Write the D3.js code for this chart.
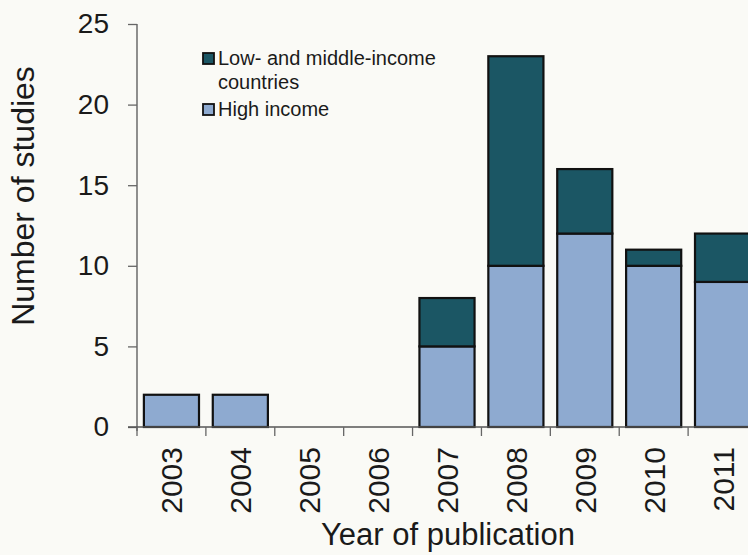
<!DOCTYPE html>
<html>
<head>
<meta charset="utf-8">
<script src="https://cdn.jsdelivr.net/npm/d3@7"></script>
<style>
  html, body { margin: 0; padding: 0; background: #fafaf6; }
  svg { display: block; }
  text { font-family: "Liberation Sans", Arial, sans-serif; fill: #1a1a1a; }
</style>
</head>
<body>
<svg id="chart" width="748" height="555"></svg>
<script>
const years = ["2003", "2004", "2005", "2006", "2007", "2008", "2009", "2010", "2011"];
const highIncome = [2, 2, 0, 0, 5, 10, 12, 10, 9];
const lowMiddleIncome = [0, 0, 0, 0, 3, 13, 4, 1, 3];
const yTicks = [0, 5, 10, 15, 20, 25];
const seriesNames = ["Low- and middle-income countries", "High income"];

const colors = { high: "#8eaad0", low: "#1b5664" };

const svg = d3.select("#chart");
svg.append("rect").attr("width", 748).attr("height", 555).attr("fill", "#fafaf6");

const x = d3.scaleBand().domain(years).range([137, 757]).paddingInner(0.2).paddingOuter(0.1);
const y = d3.scaleLinear().domain([0, 25]).range([427, 24]);

// Bars
const data = years.map((yr, i) => ({ year: yr, high: highIncome[i], low: lowMiddleIncome[i] }));
const stack = d3.stack().keys(["high", "low"])(data);
const fills = { high: colors.high, low: colors.low };

stack.forEach(layer => {
  svg.append("g").selectAll("rect")
    .data(layer.filter(d => d[1] - d[0] > 0))
    .join("rect")
    .attr("x", d => x(d.data.year))
    .attr("width", x.bandwidth())
    .attr("y", d => y(d[1]))
    .attr("height", d => y(d[0]) - y(d[1]))
    .attr("fill", fills[layer.key])
    .attr("stroke", "#111")
    .attr("stroke-width", 2.2);
});

// Y axis
const yAxis = d3.axisLeft(y).tickValues(yTicks).tickSize(9).tickSizeOuter(0).tickPadding(19);
const gy = svg.append("g").attr("transform", "translate(137,0)").call(yAxis);
gy.select(".domain").attr("stroke", "#555").attr("stroke-width", 1.3).attr("d", "M0,24V431");
gy.selectAll(".tick line").attr("stroke", "#666").attr("stroke-width", 1.3);
gy.selectAll(".tick text").style("font-size", "28px").attr("fill", "#1a1a1a")
  .style("font-family", "'Liberation Sans', Arial, sans-serif");

// X axis line and ticks at band boundaries
svg.append("line").attr("x1", 128).attr("x2", 748).attr("y1", y(0)).attr("y2", y(0))
  .attr("stroke", "#555").attr("stroke-width", 1.3);
const bounds = years.map(yr => x(yr) - x.step() * x.paddingInner() / 2);
svg.append("g").selectAll("line").data(bounds).join("line")
  .attr("x1", d => d).attr("x2", d => d)
  .attr("y1", y(0)).attr("y2", y(0) + 9)
  .attr("stroke", "#666").attr("stroke-width", 1.3);

// X labels (rotated)
svg.append("g").selectAll("text").data(years).join("text")
  .attr("transform", d => `translate(${x(d) + x.bandwidth() / 2 + 11},447) rotate(-90)`)
  .attr("text-anchor", "end")
  .style("font-size", "30px")
  .text(d => d);

// Axis titles
svg.append("text")
  .attr("transform", "translate(34,196) rotate(-90)")
  .attr("text-anchor", "middle")
  .style("font-size", "32px")
  .text("Number of studies");

svg.append("text")
  .attr("x", 448).attr("y", 545)
  .attr("text-anchor", "middle")
  .style("font-size", "31px")
  .text("Year of publication");

// Legend
const legend = svg.append("g");
const legendItems = [
  { lines: ["Low- and middle-income", "countries"], color: colors.low, top: 53 },
  { lines: ["High income"], color: colors.high, top: 104 }
];
legendItems.forEach(item => {
  legend.append("rect").attr("x", 203).attr("y", item.top).attr("width", 11).attr("height", 11)
    .attr("fill", item.color).attr("stroke", "#111").attr("stroke-width", 1.8);
  item.lines.forEach((ln, j) => {
    legend.append("text").attr("x", 218).attr("y", item.top + 12 + j * 24)
      .style("font-size", "20px").text(ln);
  });
});
</script>
</body>
</html>
